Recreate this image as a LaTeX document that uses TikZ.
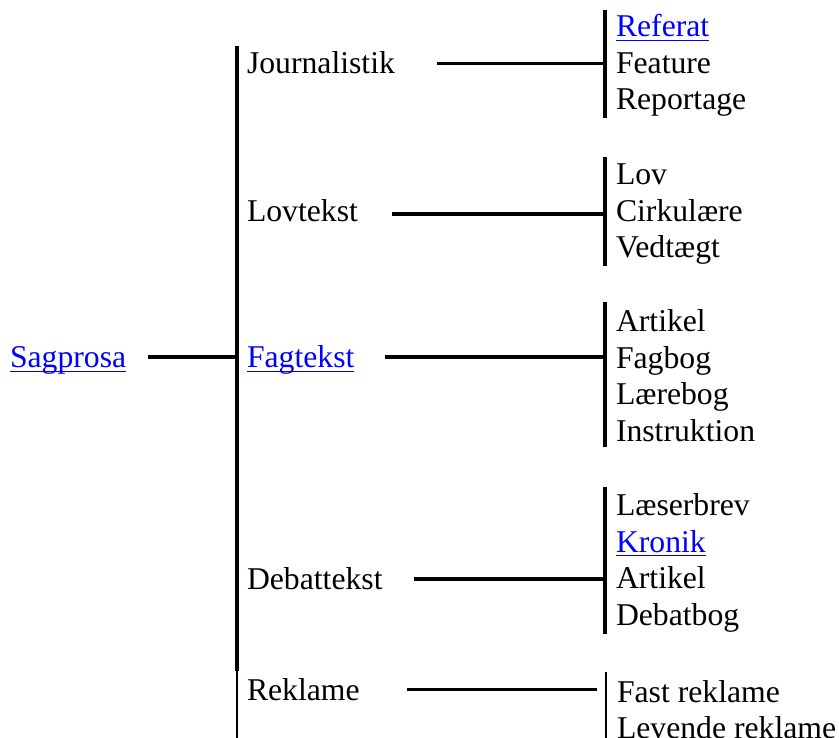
\documentclass[tikz,border=0pt]{standalone}
\usepackage{fontspec}
\setmainfont{Liberation Serif}
\definecolor{linkblue}{RGB}{0,0,255}
\tikzset{
  lbl/.style={anchor=base west, inner sep=0pt, outer sep=0pt, font=\fontsize{31.7pt}{36.5pt}\selectfont},
  lnk/.style={lbl, text=linkblue},
  bar/.style={line width=4.4pt},
  arm/.style={line width=3.8pt},
  thinbar/.style={line width=1.8pt},
  uline/.style={draw=linkblue, line width=1.8pt},
}
\begin{document}
\begin{tikzpicture}[x=1pt,y=-1pt]
\useasboundingbox (0,0) rectangle (839,738);
% left
\node[lnk] (sag) at (10,368) {Sagprosa};
\draw[uline] ([yshift=-3.5pt]sag.base west) -- ([yshift=-3.5pt]sag.base east);
% main bar
\coordinate (mtop) at (237,46);
\coordinate (mmid) at (237,671);
\coordinate (mbot) at (237,738);
\draw[bar] (mtop) -- (mmid);
\draw[thinbar] (mmid) -- (mbot);
\coordinate (s1) at (148,357);
\coordinate (s2) at (237,357);
\draw[arm] (s1) -- (s2);
% second level
\node[lbl] (jour) at (247,74) {Journalistik};
\node[lbl] (lov) at (247,222) {Lovtekst};
\node[lnk] (fag) at (247,368) {Fagtekst};
\draw[uline] ([yshift=-3.5pt]fag.base west) -- ([yshift=-3.5pt]fag.base east);
\node[lbl] (deb) at (247,589) {Debattekst};
\node[lbl] (rek) at (247,700) {Reklame};
% arms
\coordinate (ja) at (437,63.5);  \coordinate (jb) at (605,63.5);
\coordinate (la) at (392,214);   \coordinate (lb) at (605,214);
\coordinate (fa) at (385,357);   \coordinate (fb) at (605,357);
\coordinate (da) at (414,579);   \coordinate (db) at (605,579);
\coordinate (ra) at (407,689.5); \coordinate (rb) at (597,689.5);
\draw[arm] (ja) -- (jb);
\draw[arm] (la) -- (lb);
\draw[arm] (fa) -- (fb);
\draw[arm] (da) -- (db);
\draw[arm] (ra) -- (rb);
% right bars
\coordinate (jt) at (605,10);  \coordinate (jbt) at (605,118);
\coordinate (lt) at (605,157); \coordinate (lbt) at (605,266);
\coordinate (ft) at (605,302); \coordinate (fbt) at (605,447);
\coordinate (dt) at (605,487); \coordinate (dbt) at (605,634);
\coordinate (rt) at (606,672); \coordinate (rbt) at (606,738);
\draw[bar] (jt) -- (jbt);
\draw[bar] (lt) -- (lbt);
\draw[bar] (ft) -- (fbt);
\draw[bar] (dt) -- (dbt);
\draw[thinbar] (rt) -- (rbt);
% third level
\node[lnk] (ref) at (616,37) {Referat};
\draw[uline] ([yshift=-3.5pt]ref.base west) -- ([yshift=-3.5pt]ref.base east);
\node[lbl] (fea) at (616,73.5) {Feature};
\node[lbl] (rep) at (616,110) {Reportage};
\node[lbl] (lo) at (616,185) {Lov};
\node[lbl] (cir) at (616,221.5) {Cirkulære};
\node[lbl] (ved) at (616,258) {Vedtægt};
\node[lbl] (art) at (616,332) {Artikel};
\node[lbl] (fbo) at (616,368.5) {Fagbog};
\node[lbl] (lae) at (616,405) {Lærebog};
\node[lbl] (ins) at (616,441.5) {Instruktion};
\node[lbl] (las) at (616,515.5) {Læserbrev};
\node[lnk] (kro) at (616,552) {Kronik};
\draw[uline] ([yshift=-3.5pt]kro.base west) -- ([yshift=-3.5pt]kro.base east);
\node[lbl] (art2) at (616,588.5) {Artikel};
\node[lbl] (dbo) at (616,625) {Debatbog};
\node[lbl] (fas) at (617,702) {Fast reklame};
\node[lbl] (lev) at (617,738) {Levende reklame};
\end{tikzpicture}
\end{document}
